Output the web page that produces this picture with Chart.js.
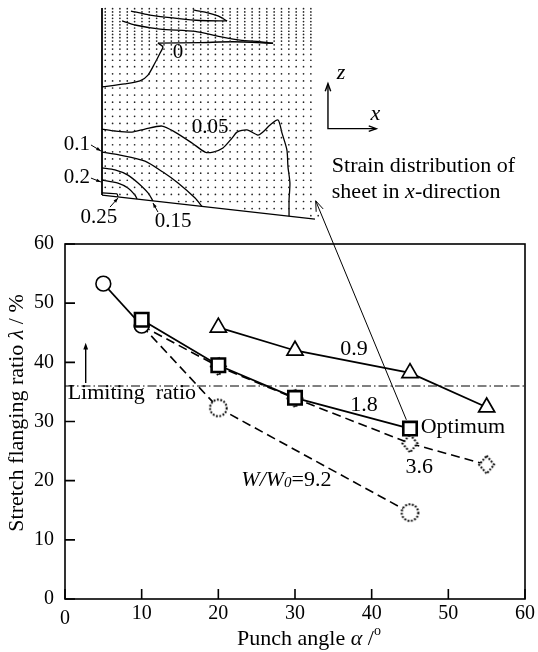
<!DOCTYPE html>
<html>
<head>
<meta charset="utf-8">
<script src="https://cdn.jsdelivr.net/npm/chart.js@4.4.1/dist/chart.umd.min.js"></script>
<style>
html, body { margin: 0; padding: 0; background: #fff; }
#wrap { position: relative; width: 538px; height: 652px; overflow: hidden; }
#main { position: absolute; left: 0; top: 0; width: 538px; height: 652px; }
#inset { position: absolute; left: 55px; top: 0; width: 275px; height: 240px; }
</style>
</head>
<body>
<div id="wrap">
  <canvas id="main" width="538" height="652"></canvas>
  <canvas id="inset" width="275" height="240"></canvas>
</div>
<script>
// ---- main chart data: punch angle (deg) vs stretch flanging ratio (%) ----
const xTicks = [0, 10, 20, 30, 40, 50, 60];
const yTicks = [0, 10, 20, 30, 40, 50, 60];

const angleCircle = [5, 10];
const ratioCircle = [53.3, 46.2];
const angle09 = [20, 30, 45, 55];
const ratio09 = [45.9, 42.0, 38.2, 32.4];
const angle18 = [10, 20, 30, 45];
const ratio18 = [47.2, 39.5, 34.0, 28.8];
const angle36 = [10, 20, 30, 45, 55];
const ratio36 = [46.2, 39.3, 33.9, 26.3, 22.7];
const angle92 = [10, 20, 45];
const ratio92 = [46.2, 32.3, 14.6];
const limitingRatio = 36.0;

// ---- inset data: strain distribution (relative x / z position, 0..100) ----
const meshCols = [1.5, 4.9, 8.3, 11.7, 15.1, 18.5, 21.9, 25.3, 28.7, 32.1, 35.5, 38.9, 42.3, 45.7, 49.1,
                  52.5, 55.9, 59.3, 62.7, 66.1, 69.5, 72.9, 76.3, 79.7, 83.1, 86.5, 89.9, 93.3, 96.7, 100.1];
const meshRows = [2.0, 5.3, 8.6, 11.9, 15.2, 18.5, 21.8, 25.1, 28.4, 31.7, 35.0, 38.3, 41.6, 44.9, 48.2,
                  51.5, 54.8, 58.1, 61.4, 64.7, 68.0, 71.3, 74.3, 77.0, 79.5, 81.5, 83.2, 84.8, 86.3,
                  87.8, 89.3, 90.8, 92.3, 93.8, 95.3, 96.8, 98.3];
const edgeLeft = [[0, 11.6], [0, 98.6]];
const edgeBottom = [[0, 11.6], [98.6, 0.4]];
const contours = [
  [[13.4, 97.2], [22.2, 95.3], [32.9, 94.0], [45.4, 92.8], [57.9, 92.6]],
  [[42.1, 97.7], [47.7, 96.7], [53.7, 94.9], [57.9, 92.6]],
  [[9.3, 92.6], [15.3, 90.7], [26.9, 88.8], [43.1, 87.7], [54.6, 85.3], [63.9, 83.7], [73.1, 82.9], [79.2, 82.2]],
  [[25.9, 82.3], [45.4, 82.5], [60.6, 82.9], [79.2, 82.2]],
  [[25.9, 82.3], [28.2, 80.5], [26.9, 77.7], [24.5, 73.0], [21.3, 67.4], [17.6, 64.7], [10.6, 63.3], [0, 61.9]],
  [[0, 42.3], [6.0, 41.4], [13.9, 40.9], [19.9, 42.3], [27.8, 43.7], [33.8, 40.9], [41.7, 35.8], [47.7, 31.6],
   [51.4, 31.6], [56.0, 33.5], [60.2, 38.1], [62.5, 40.9], [67.1, 41.9], [72.2, 39.5], [74.5, 40.9], [77.8, 44.2],
   [81.5, 46.5], [83.3, 40.5], [85.6, 32.6], [86.1, 24.7], [87.0, 17.2], [86.6, 9.3], [86.6, 1.8]],
  [[0, 31.6], [8.3, 30.2], [19.9, 27.4], [28.2, 22.3], [35.2, 17.2], [43.1, 10.2], [46.3, 6.3]],
  [[0, 24.2], [6.0, 23.3], [12.0, 20.9], [16.7, 17.2], [21.3, 12.6], [23.6, 8.9]],
  [[0, 18.6], [7.4, 17.2], [12.0, 14.9], [15.3, 11.6], [16.2, 9.8]],
  [[0, 12.6], [6.9, 12.1], [7.4, 10.8]]
];
const contourLabels = [
  { t: '0', x: 35.2, z: 77.7 },
  { t: '0.05', x: 50.0, z: 42.8 },
  { t: '0.1', x: -11.6, z: 34.9, from: [-5.1, 34.9], to: [-0.5, 32.1] },
  { t: '0.2', x: -11.6, z: 20.0, from: [-5.1, 19.5], to: [-0.5, 17.7] },
  { t: '0.25', x: -1.4, z: 1.4, from: [3.7, 6.0], to: [7.4, 10.2] },
  { t: '0.15', x: 32.9, z: -0.9, from: [25.9, 3.7], to: [23.6, 7.9] }
];

const serif = '"Liberation Serif", "Times New Roman", serif';

function pts(xs, ys) {
  return xs.map((x, i) => ({ x: x, y: ys[i] }));
}

// draw a run of text pieces: [text, style, size, dy]
function rich(ctx, parts, x, y, align) {
  let w = 0;
  parts.forEach(p => {
    ctx.font = (p[1] || '') + ' ' + (p[2] || 22) + 'px ' + serif;
    w += ctx.measureText(p[0]).width;
  });
  let cx = align === 'center' ? x - w / 2 : (align === 'right' ? x - w : x);
  ctx.textAlign = 'left';
  ctx.textBaseline = 'middle';
  ctx.fillStyle = '#000';
  parts.forEach(p => {
    ctx.font = (p[1] || '') + ' ' + (p[2] || 22) + 'px ' + serif;
    ctx.fillText(p[0], cx, y + (p[3] || 0));
    cx += ctx.measureText(p[0]).width;
  });
}

function arrowHead(ctx, x1, y1, x2, y2, len, filled) {
  const a = Math.atan2(y2 - y1, x2 - x1);
  ctx.beginPath();
  ctx.moveTo(x2 - len * Math.cos(a - 0.35), y2 - len * Math.sin(a - 0.35));
  ctx.lineTo(x2, y2);
  ctx.lineTo(x2 - len * Math.cos(a + 0.35), y2 - len * Math.sin(a + 0.35));
  if (filled) { ctx.closePath(); ctx.fill(); } else { ctx.stroke(); }
}

// dotted marker images
function dottedMarker(kind) {
  const c = document.createElement('canvas');
  c.width = 21; c.height = 21;
  const g = c.getContext('2d');
  g.beginPath();
  if (kind === 'circle') {
    g.arc(10.5, 10.5, 8.3, 0, Math.PI * 2);
  } else {
    g.moveTo(10.5, 1.5); g.lineTo(18, 10.5); g.lineTo(10.5, 19.5); g.lineTo(3, 10.5); g.closePath();
  }
  g.fillStyle = '#fff';
  g.fill();
  g.setLineDash([1.8, 1.6]);
  g.lineWidth = 2;
  g.strokeStyle = '#000';
  g.stroke();
  return c;
}
const dotCircle = dottedMarker('circle');
const dotDiamond = dottedMarker('diamond');

const framePlugin = {
  id: 'frame',
  afterDraw(chart) {
    const ctx = chart.ctx;
    const a = chart.chartArea;
    const sx = chart.scales.x, sy = chart.scales.y;
    const X = v => sx.getPixelForValue(v), Y = v => sy.getPixelForValue(v);
    ctx.save();
    ctx.strokeStyle = '#000';
    ctx.fillStyle = '#000';
    ctx.lineWidth = 1.6;
    ctx.strokeRect(a.left, a.top, a.right - a.left, a.bottom - a.top);
    // inward tick marks
    ctx.beginPath();
    xTicks.forEach(v => { ctx.moveTo(X(v), a.bottom); ctx.lineTo(X(v), a.bottom - 10); });
    yTicks.forEach(v => { ctx.moveTo(a.left, Y(v)); ctx.lineTo(a.left + 10, Y(v)); });
    ctx.stroke();
    // x label "0" sits a little lower
    rich(ctx, [['0', '', 20]], X(0), a.bottom + 20, 'center');

    // limiting ratio arrow and text
    ctx.lineWidth = 1.4;
    ctx.beginPath();
    ctx.moveTo(X(2.7), Y(36.5));
    ctx.lineTo(X(2.7), Y(42.6));
    ctx.stroke();
    arrowHead(ctx, X(2.7), Y(36.5), X(2.7), Y(43.3), 7, true);
    rich(ctx, [['Limiting  ratio', '', 22]], X(0.35), Y(34.7), 'left');

    // series labels
    rich(ctx, [['0.9', '', 22]], X(37.7), Y(42.3), 'center');
    rich(ctx, [['1.8', '', 22]], X(39.0), Y(32.7), 'center');
    rich(ctx, [['Optimum', '', 22]], X(46.4), Y(29.0), 'left');
    rich(ctx, [['3.6', '', 22]], X(46.2), Y(22.2), 'center');
    rich(ctx, [['W/W', 'italic', 22], ['0', 'italic', 15, 3], ['=9.2', '', 22]], X(23.0), Y(20.1), 'left');

    // pointer from the optimum point up to the inset
    const x1 = X(angle18[3]), y1 = Y(ratio18[3]);
    const x2 = X(32.7), y2 = Y(67.3);
    const d = Math.hypot(x2 - x1, y2 - y1);
    ctx.lineWidth = 1;
    ctx.beginPath();
    ctx.moveTo(x1 + (x2 - x1) * 9.5 / d, y1 + (y2 - y1) * 9.5 / d);
    ctx.lineTo(x2, y2);
    ctx.stroke();
    arrowHead(ctx, x1, y1, x2, y2, 11, false);

    // z / x direction symbol
    ctx.lineWidth = 1.4;
    ctx.beginPath();
    ctx.moveTo(X(34.3), Y(87.1));
    ctx.lineTo(X(34.3), Y(79.5));
    ctx.lineTo(X(40.6), Y(79.5));
    ctx.stroke();
    arrowHead(ctx, X(34.3), Y(79.5), X(34.3), Y(87.1), 8, false);
    arrowHead(ctx, X(34.3), Y(79.5), X(40.6), Y(79.5), 8, false);
    rich(ctx, [['z', 'italic', 22]], X(36.0), Y(88.9), 'center');
    rich(ctx, [['x', 'italic', 22]], X(40.5), Y(82.0), 'center');
    rich(ctx, [['Strain distribution of', '', 22]], X(34.8), Y(73.2), 'left');
    rich(ctx, [['sheet in ', '', 22], ['x', 'italic', 22], ['-direction', '', 22]], X(34.8), Y(68.7), 'left');

    // axis titles
    rich(ctx, [['Punch angle ', '', 22], ['\u03b1', 'italic', 22], [' /', '', 22], ['o', '', 14, -8]], 309, 639, 'center');
    ctx.save();
    ctx.translate(17.5, 413);
    ctx.rotate(-Math.PI / 2);
    rich(ctx, [['Stretch flanging ratio ', '', 22], ['\u03bb', 'italic', 22], [' / %', '', 22]], 0, 0, 'center');
    ctx.restore();
    ctx.restore();
  }
};

const tickFont = { family: serif, size: 20 };

new Chart(document.getElementById('main'), {
  type: 'scatter',
  data: {
    datasets: [
      {
        data: pts(angle18, ratio18), showLine: true, order: 1,
        borderColor: '#000', borderWidth: 1.8,
        pointStyle: 'rect', pointRadius: 9.5, pointBorderWidth: 2.6,
        pointBackgroundColor: '#fff', pointBorderColor: '#000'
      },
      {
        data: pts(angleCircle, ratioCircle), showLine: true, order: 2,
        borderColor: '#000', borderWidth: 1.6,
        pointStyle: 'circle', pointRadius: 7.4, pointBorderWidth: 1.6,
        pointBackgroundColor: '#fff', pointBorderColor: '#000'
      },
      {
        data: pts(angle09, ratio09), showLine: true, order: 3,
        borderColor: '#000', borderWidth: 1.8,
        pointStyle: 'triangle', pointRadius: 9.3, pointBorderWidth: 1.7,
        pointBackgroundColor: '#fff', pointBorderColor: '#000'
      },
      {
        data: pts(angle36, ratio36), showLine: true, order: 4,
        borderColor: '#000', borderWidth: 1.6, borderDash: [9, 5],
        pointStyle: dotDiamond, pointRadius: [0, 8, 8, 8, 8]
      },
      {
        data: pts(angle92, ratio92), showLine: true, order: 5,
        borderColor: '#000', borderWidth: 1.6, borderDash: [9, 5],
        pointStyle: dotCircle, pointRadius: [0, 8, 8]
      },
      {
        data: [{ x: 0, y: limitingRatio }, { x: 60, y: limitingRatio }], showLine: true, order: 6,
        borderColor: '#000', borderWidth: 1, borderDash: [9, 3, 1.5, 3], pointRadius: 0
      }
    ]
  },
  options: {
    responsive: false,
    animation: false,
    layout: { padding: { top: 244, right: 11, bottom: 0, left: 0 } },
    plugins: { legend: { display: false }, tooltip: { enabled: false } },
    scales: {
      x: {
        type: 'linear', min: 0, max: 60,
        ticks: {
          stepSize: 10, color: '#000', font: tickFont, padding: 3, maxRotation: 0,
          callback: v => (v === 0 ? '' : v)
        },
        grid: { display: false, drawTicks: false },
        border: { display: false },
        afterFit: s => { s.height = 53; }
      },
      y: {
        type: 'linear', min: 0, max: 60,
        ticks: { stepSize: 10, color: '#000', font: tickFont, padding: 11 },
        grid: { display: false, drawTicks: false },
        border: { display: false },
        afterFit: s => { s.width = 65; }
      }
    }
  },
  plugins: [framePlugin]
});

// ---- inset: strain distribution of sheet in x-direction ----
function bottomEdge(x) {
  return edgeBottom[0][1] + (edgeBottom[1][1] - edgeBottom[0][1]) * x / edgeBottom[1][0];
}
const meshPts = [];
meshCols.forEach(x => {
  meshRows.forEach(z => {
    if (z > bottomEdge(x) + 1) meshPts.push({ x: x, y: z });
  });
});

const insetSets = [
  { data: meshPts, pointRadius: 0.85, pointBackgroundColor: '#222', pointBorderWidth: 0, clip: false },
  { data: edgeLeft.map(p => ({ x: p[0], y: p[1] })), showLine: true, borderColor: '#000', borderWidth: 1.8, pointRadius: 0, clip: false },
  { data: edgeBottom.map(p => ({ x: p[0], y: p[1] })), showLine: true, borderColor: '#000', borderWidth: 1.3, pointRadius: 0, clip: false }
];
contours.forEach(c => {
  insetSets.push({
    data: c.map(p => ({ x: p[0], y: p[1] })), showLine: true, tension: 0.25,
    borderColor: '#000', borderWidth: 1.3, pointRadius: 0, clip: false
  });
});

const insetLabels = {
  id: 'insetLabels',
  afterDraw(chart) {
    const ctx = chart.ctx;
    const X = v => chart.scales.x.getPixelForValue(v), Y = v => chart.scales.y.getPixelForValue(v);
    ctx.save();
    ctx.strokeStyle = '#000';
    ctx.fillStyle = '#000';
    ctx.lineWidth = 1;
    contourLabels.forEach(l => {
      rich(ctx, [[l.t, '', 21]], X(l.x), Y(l.z), 'center');
      if (l.from) {
        ctx.beginPath();
        ctx.moveTo(X(l.from[0]), Y(l.from[1]));
        ctx.lineTo(X(l.to[0]), Y(l.to[1]));
        ctx.stroke();
        arrowHead(ctx, X(l.from[0]), Y(l.from[1]), X(l.to[0]), Y(l.to[1]), 5, true);
      }
    });
    ctx.restore();
  }
};

new Chart(document.getElementById('inset'), {
  type: 'scatter',
  data: { datasets: insetSets },
  options: {
    responsive: false,
    animation: false,
    layout: { padding: { left: 47, top: 5, right: 12, bottom: 20 } },
    plugins: { legend: { display: false }, tooltip: { enabled: false } },
    scales: {
      x: { type: 'linear', min: 0, max: 100, display: false },
      y: { type: 'linear', min: 0, max: 100, display: false }
    }
  },
  plugins: [insetLabels]
});
</script>
</body>
</html>
